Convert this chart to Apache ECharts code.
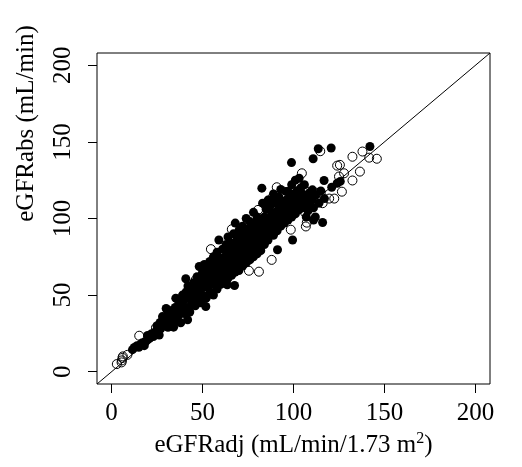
<!DOCTYPE html>
<html><head><meta charset="utf-8">
<script src="https://cdn.jsdelivr.net/npm/echarts@6/dist/echarts.min.js"></script>
<style>html,body{margin:0;padding:0;background:#fff}#c{width:522px;height:467px}</style>
</head><body><div id="c"></div>
<script>
const tickValues = [0, 50, 100, 150, 200];
const xTitle = 'eGFRadj (mL/min/1.73 m{sup|2})';
const yTitle = 'eGFRabs (mL/min)';
const identityLine = [[-8, -8], [208, 208]];
const filledPoints = [
[12.5,15.9],[11.5,14.4],[14,17],[15,16],[16,18],[17,19],[18,17],[19,20],[20,21],[19.8,23.7],[22,24.8],[21,22],[23,23],
[24,26],[25,30],[26.2,23.9],[26.7,32.2],[27,28],[28,33],[28,36],[29,31],[30,41.3],[30,35],[31,38],[31,29],[32,34],[33,40],[33,30],[34.1,29.1],[34,36],[35.3,48],[35,42],[36,39],[36,33],[37,45],[37,37],[38,41],[38,32],
[39,44],[39,50],[40,38],[40,47],[40.8,60.7],[41,52],[41.8,33.9],[42,42],[42,56],[43,48],[43,39],[44,45],[44,53],[45,50],[45,58],[46,43],[46,55],[47,47],[47,62],[48,52],[48,57],[48.2,68.7],[49,45],[49,60],[50,50],[50,55],[50,65],
[51,58],[51.8,42.6],[51,70],[52,48],[52,62],[53,55],[53,66],[54,52],[54,60],[54,72],[55,57],[55,64],[55,68],[56,50],[56,61],[56,75],[57,58],[57,67],[57,71],[58,54],[58,63],[58,78],[59,86],[59,60],[59,70],[60,57],[60,65],[60,74],
[61,62],[61,69],[61,80],[62,58],[62,66],[62,73],[63,64],[63,76],[63.6,56.7],[63,83],[64,61],[64,70],[64,88],[65,67],[65,74],[65,79],[66,63],[66,72],[66,84],[67,68],[67,77],[67,90],[67.6,56.3],[68,65],[68,74],[68,97],[68,81],[69,70],[69,78],[69,86],[70,66],[70,75],[70,83],[70,92],
[71,72],[71,80],[71,88],[72,69],[72,77],[72,85],[72,95],[73,74],[73,82],[73,90],[74,71],[74,79],[74,87],[74,100],[75,76],[75,84],[75,93],[76,73],[76,81],[76,89],[76,98],[77,78],[77,86],[77,95],[78,75],[78,83],[78,92],[78,104],[79,80],[79,88],[79,97],[80,77],[80,85],[80,94],[80,101],
[81,82],[81,90],[81,99],[82,79],[82,87],[82.6,119.8],[82,96],[83,85],[83,93],[83,110],[84,83],[84,91],[84,101],[85,88],[85,97],[85,106],[86,86],[86,94],[86,112],[87,90],[87,100],[87,108],[88,112],[88,93],[88,103],[89,89],[89,97],[89,116],[90,95],[90,104],[90,110],
[91,92],[91.2,79.6],[91,101],[92,98],[92,107],[92,114],[93,95],[93,104],[93,119],[94,100],[94,110],[95,97],[95,106],[95.8,117.7],[96,103],[96,112],[97,117.6],[97,99],[97,108],[98,104],[98,114],[98.9,136.5],[99,101],[99.5,86],[99,110],[99,122],[100,106],[100,116],
[101,103],[101,112],[101,125],[102,108],[102,118],[103,105.6],[103.1,126.3],[103,114],[104,110],[104,120],[105,107],[105,116],[106,112],[106,122],[107,110],[107,101],[108,114],[108,105],[109,117],[109,108],[110,112],[110.4,118.7],[110.8,139],[111,99],
[111,107],[112,115],[112,101],[113.6,145.5],[114,110],[115,118],[116,97.4],[116.8,124.8],[117,113],[121,120.4],[120.7,146],[124,123],[125.7,124.2],[142,147]
];
const openPoints = [
[2.9,5],[5.5,6.1],[5.7,7.4],[6,9],[6.2,10],[8.7,11],[15.2,23.5],[24.4,28.7],[42.7,53.9],[46.3,60],[54.6,80],[66.1,93],[66.4,85],[75.5,65.9],[81,65.3],[88,73],[80.5,105.6],[88.3,113.6],[90.8,120.4],[98.5,92.7],[101.5,123.4],[104.6,129.5],[104,109],[106.4,103.8],[106.8,94.8],[107.3,97.3],[107.5,117.5],[110,114],[112.5,116.8],[113,111],[116,110],[115,117],[114.7,143.9],[119.6,113],[122.4,113],[124,134.5],[125.5,135],[125,127.4],[127.8,129.5],[126.6,117.5],[132.4,140.3],[132.4,124.8],[136.5,130.6],[137.9,143.7],[141.6,139.7],[145.8,139],[85,98],[96,104]
];
const font = 'Liberation Serif';
const chart = echarts.init(document.getElementById('c'), null, {renderer: 'canvas'});
chart.setOption({
  animation: false,
  backgroundColor: '#fff',
  grid: {left: 97, top: 53, width: 393, height: 331, show: true, borderColor: '#000', borderWidth: 1, backgroundColor: 'transparent'},
  xAxis: {
    type: 'value', min: -8, max: 208,
    axisLine: {show: false, onZero: false}, splitLine: {show: false},
    axisTick: {show: true, inside: false, length: 9, customValues: tickValues, lineStyle: {color: '#000', width: 1}},
    axisLabel: {customValues: tickValues, margin: 17, color: '#000', fontFamily: font, fontSize: 25},
    name: xTitle, nameLocation: 'middle', nameGap: 45,
    nameTextStyle: {color: '#000', fontFamily: font, fontSize: 25, rich: {sup: {fontSize: 16, fontFamily: font, color: '#000', padding: [0, 0, 13, 0]}}}
  },
  yAxis: {
    type: 'value', min: -8, max: 208,
    axisLine: {show: false, onZero: false}, splitLine: {show: false},
    axisTick: {show: true, inside: false, length: 9, customValues: tickValues, lineStyle: {color: '#000', width: 1}},
    axisLabel: {customValues: tickValues, rotate: 90, margin: 21, color: '#000', fontFamily: font, fontSize: 25},
    name: yTitle, nameLocation: 'middle', nameGap: 58, nameRotate: 90, nameMoveOverlap: false,
    nameTextStyle: {color: '#000', fontFamily: font, fontSize: 25, padding: [0, 0, 0, 190]}
  },
  series: [
    {type: 'line', data: identityLine, symbol: 'none', clip: true, lineStyle: {color: '#000', width: 1}, z: 1, silent: true},
    {type: 'scatter', data: filledPoints, symbol: 'circle', symbolSize: 9, itemStyle: {color: '#000', opacity: 1}, z: 2},
    {type: 'scatter', data: openPoints, symbol: 'circle', symbolSize: 9, itemStyle: {color: 'rgba(0,0,0,0)', borderColor: '#000', borderWidth: 1, opacity: 1}, z: 3}
  ]
});
</script></body></html>
